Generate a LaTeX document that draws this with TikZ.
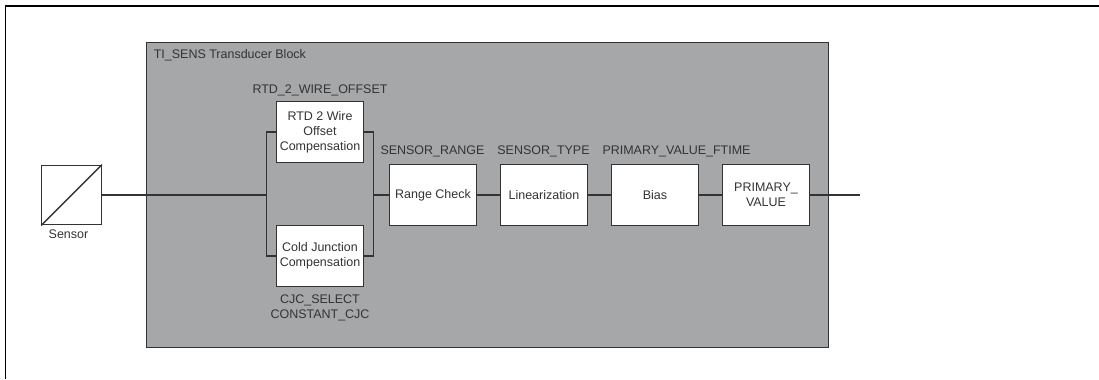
\documentclass[tikz,border=0pt]{standalone}
\usepackage{fontspec}
\setmainfont{Liberation Sans}
\definecolor{blockgray}{HTML}{A6A7A9}
\definecolor{wiregray}{HTML}{333333}

\begin{document}
\begin{tikzpicture}[
  blockbox/.style={
    rectangle,
    draw=wiregray,
    fill=white,
    line width=0.8pt,
    minimum width=1.75cm,
    minimum height=1.21cm,
    inner sep=0pt,
    align=center,
    text=wiregray,
    font=\fontsize{7.1}{8.6}\selectfont
  },
  wire/.style={
    draw=wiregray,
    line width=0.8pt
  },
  caption/.style={
    inner sep=0pt,
    text=wiregray,
    align=center,
    font=\fontsize{7.1}{8.4}\selectfont
  }
]

\path[use as bounding box] (0,0) rectangle (21.98,7.58);

\draw[line width=0.7pt] (0.11,0) -- (0.11,7.46) -- (21.98,7.46);

\node[rectangle, draw=wiregray, fill=blockgray, line width=0.7pt,
  minimum width=13.64cm, minimum height=6.10cm] (block) at (9.75,3.68) {};
\node[caption, anchor=west] (blocktitle) at (3.07,6.48) {TI\_SENS Transducer Block};

\node[blockbox, minimum width=1.19cm, minimum height=1.19cm] (sensor) at (1.43,3.68) {};
\draw[wire] (sensor.south west) -- (sensor.north east);
\node[caption] (sensorlabel) at (1.37,2.89) {Sensor};

\node[blockbox] (rtd) at (6.40,4.94) {RTD 2 Wire\\Offset\\Compensation};
\node[blockbox] (cold) at (6.40,2.46) {Cold Junction\\Compensation};
\node[blockbox] (range) at (8.66,3.68) {Range Check};
\node[blockbox] (linear) at (10.88,3.68) {Linearization};
\node[blockbox] (bias) at (13.10,3.68) {Bias};
\node[blockbox] (primary) at (15.32,3.68) {PRIMARY\_\\VALUE};

\node[caption] (rtdlabel) at (6.40,5.77) {RTD\_2\_WIRE\_OFFSET};
\node[caption] (coldlabel) at (6.40,1.42) {CJC\_SELECT\\CONSTANT\_CJC};
\node[caption] (rangelabel) at (8.65,4.55) {SENSOR\_RANGE};
\node[caption] (typelabel) at (10.87,4.55) {SENSOR\_TYPE};
\node[caption] (timelabel) at (13.53,4.55) {PRIMARY\_VALUE\_FTIME};

\coordinate (busin) at (5.33,3.68);
\coordinate (busout) at (7.47,3.68);
\coordinate (outend) at (17.19,3.68);

\draw[wire] (sensor) -- (busin);
\draw[wire] (busin) |- (rtd.west);
\draw[wire] (busin) |- (cold.west);
\draw[wire] (rtd.east) -| (busout);
\draw[wire] (cold.east) -| (busout);
\draw[wire] (busout) -- (range);
\draw[wire] (range) -- (linear);
\draw[wire] (linear) -- (bias);
\draw[wire] (bias) -- (primary);
\draw[wire] (primary) -- (outend);

\end{tikzpicture}
\end{document}
